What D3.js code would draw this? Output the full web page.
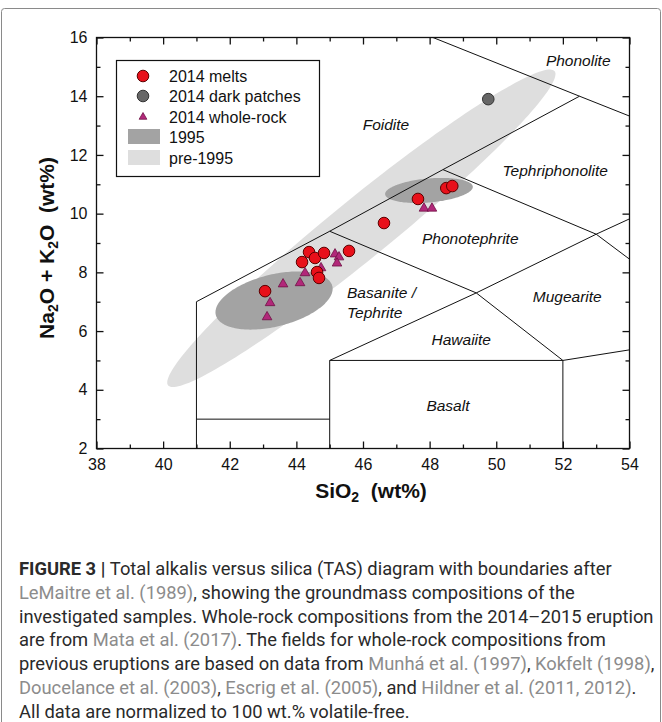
<!DOCTYPE html>
<html>
<head>
<meta charset="utf-8">
<script src="https://cdn.jsdelivr.net/npm/d3@7"></script>
<style>
  body { margin: 0; background: #fff; }
  svg text { font-family: "Liberation Sans", Arial, sans-serif; }
</style>
</head>
<body>
<div id="chart"></div>
<script>
// ---- data ----
// 2014 melts (groundmass)
const meltSiO2 = [43.06, 44.17, 44.38, 44.56, 44.83, 45.58, 44.62, 44.68, 46.63, 47.65, 48.50, 48.68];
const meltAlk  = [7.36, 8.35, 8.69, 8.49, 8.66, 8.73, 8.01, 7.81, 9.68, 10.50, 10.87, 10.94];
// 2014 dark patches
const darkSiO2 = [49.76];
const darkAlk  = [13.90];
// 2014 whole-rock
const wrSiO2 = [43.12, 43.21, 43.60, 44.11, 44.26, 44.74, 45.16, 45.28, 45.22, 47.83, 48.07];
const wrAlk  = [6.48, 6.96, 7.60, 7.64, 7.98, 8.15, 8.62, 8.52, 8.31, 10.18, 10.18];

// fields of earlier eruptions: centre + two half-axis vectors (data units)
const fieldNames = ["pre-1995", "1995", "1995"];
const fieldCentre = [[45.95, 9.5], [43.33, 7.04], [47.98, 10.79]];
const fieldAxisU = [[5.8, 5.35], [1.748, 0.494], [1.316, 0.131]];
const fieldAxisV = [[0.56, -0.79], [0.189, -0.859], [0.031, -0.407]];

// TAS boundaries (LeMaitre et al. 1989)
const tasLines = [
  [[41, 0], [41, 7], [45, 9.4], [48.4, 11.5], [52.5, 14]],
  [[48.1, 16], [52.5, 14], [57.6, 11.7]],
  [[41, 3], [45, 3]],
  [[45, 0], [45, 5], [52, 5], [52, 0]],
  [[45, 5], [49.4, 7.3], [53, 9.3], [57.6, 11.7]],
  [[45, 9.4], [49.4, 7.3], [52, 5]],
  [[48.4, 11.5], [53, 9.3], [57, 5.9]],
  [[52, 5], [57, 5.9]]
];
const fieldLabels = ["Phonolite", "Foidite", "Tephriphonolite", "Phonotephrite", "Mugearite", "Basanite /", "Tephrite", "Hawaiite", "Basalt"];
const fieldLabelX = [52.46, 46.69, 51.77, 49.22, 52.13, 45.52, 45.52, 48.95, 48.55];
const fieldLabelY = [15.03, 12.85, 11.28, 8.97, 6.99, 7.13, 6.44, 5.53, 3.28];
const fieldLabelAnchor = ["middle", "middle", "middle", "middle", "middle", "start", "start", "middle", "middle"];

const xTicks = [38, 40, 42, 44, 46, 48, 50, 52, 54];
const yTicks = [2, 4, 6, 8, 10, 12, 14, 16];

const legendLabels = ["2014 melts", "2014 dark patches", "2014 whole-rock", "1995", "pre-1995"];

const captionLines = [
  [["FIGURE 3 | ", "b"], ["Total alkalis versus silica (TAS) diagram with boundaries after", "t"]],
  [["LeMaitre et al. (1989)", "r"], [", showing the groundmass compositions of the", "t"]],
  [["investigated samples. Whole-rock compositions from the 2014\u20132015 eruption", "t"]],
  [["are from ", "t"], ["Mata et al. (2017)", "r"], [". The fields for whole-rock compositions from", "t"]],
  [["previous eruptions are based on data from ", "t"], ["Munh\u00e1 et al. (1997)", "r"], [", ", "t"], ["Kokfelt (1998)", "r"], [",", "t"]],
  [["Doucelance et al. (2003)", "r"], [", ", "t"], ["Escrig et al. (2005)", "r"], [", and ", "t"], ["Hildner et al. (2011, 2012)", "r"], [".", "t"]],
  [["All data are normalized to 100 wt.% volatile-free.", "t"]]
];

// ---- layout ----
const width = 662, height = 722;
const svg = d3.select("#chart").append("svg")
  .attr("width", width).attr("height", height);

const x = d3.scaleLinear().domain([38, 54]).range([96.5, 629.5]);
const y = d3.scaleLinear().domain([2, 16]).range([448.5, 37.5]);

// outer figure border
svg.append("rect")
  .attr("x", 1.5).attr("y", 8.5).attr("width", 659).attr("height", 760)
  .attr("rx", 3).attr("fill", "none").attr("stroke", "#8a8a8a").attr("stroke-width", 1);

svg.append("clipPath").attr("id", "plotclip")
  .append("rect").attr("x", x(38)).attr("y", y(16))
  .attr("width", x(54) - x(38)).attr("height", y(2) - y(16));

const plot = svg.append("g").attr("clip-path", "url(#plotclip)");

// ellipse fields
const ellipseLine = d3.line().x(d => x(d[0])).y(d => y(d[1])).curve(d3.curveLinearClosed);
const steps = d3.range(0, 2 * Math.PI, Math.PI / 90);
fieldCentre.forEach((c, i) => {
  const u = fieldAxisU[i], v = fieldAxisV[i];
  const pts = steps.map(t => [c[0] + u[0] * Math.cos(t) + v[0] * Math.sin(t),
                              c[1] + u[1] * Math.cos(t) + v[1] * Math.sin(t)]);
  plot.append("path")
    .attr("d", ellipseLine(pts))
    .attr("fill", fieldNames[i] === "1995" ? "#a3a3a3" : "#dedede");
});

// TAS boundary lines
const bLine = d3.line().x(d => x(d[0])).y(d => y(d[1]));
plot.selectAll(".tas").data(tasLines).enter().append("path")
  .attr("class", "tas")
  .attr("d", bLine)
  .attr("fill", "none").attr("stroke", "#111").attr("stroke-width", 1);

// field names
svg.selectAll(".fname").data(fieldLabels).enter().append("text")
  .attr("class", "fname")
  .attr("x", (d, i) => x(fieldLabelX[i]))
  .attr("y", (d, i) => y(fieldLabelY[i]))
  .attr("text-anchor", (d, i) => fieldLabelAnchor[i])
  .attr("font-style", "italic").attr("font-size", 15.5).attr("fill", "#111")
  .text(d => d);

// frame + ticks on all four sides
svg.append("rect")
  .attr("x", x(38)).attr("y", y(16))
  .attr("width", x(54) - x(38)).attr("height", y(2) - y(16))
  .attr("fill", "none").attr("stroke", "#111").attr("stroke-width", 1.3);

const xMinor = d3.range(39, 54, 2), yMinor = d3.range(3, 16, 2);
function ticks(axisFn, scale, pos, transform, labels) {
  const gMaj = svg.append("g").attr("transform", transform)
    .call(axisFn(scale).tickValues(pos === "x" ? xTicks : yTicks)
      .tickSize(-7).tickPadding(pos === "x" ? 10 : 9)
      .tickFormat(labels ? d3.format("d") : ""));
  const gMin = svg.append("g").attr("transform", transform)
    .call(axisFn(scale).tickValues(pos === "x" ? xMinor : yMinor).tickSize(-4).tickFormat(""));
  [gMaj, gMin].forEach(g => {
    g.select(".domain").remove();
    g.selectAll("line").attr("stroke", "#111").attr("stroke-width", 1.3);
    g.selectAll("text").attr("font-size", 16).attr("fill", "#111")
      .attr("font-family", "'Liberation Sans', Arial, sans-serif");
  });
}
ticks(d3.axisBottom, x, "x", `translate(0,${y(2)})`, true);
ticks(d3.axisTop, x, "x", `translate(0,${y(16)})`, false);
ticks(d3.axisLeft, y, "y", `translate(${x(38)},0)`, true);
ticks(d3.axisRight, y, "y", `translate(${x(54)},0)`, false);

// axis titles
const xt = svg.append("text").attr("x", 371).attr("y", 498)
  .attr("text-anchor", "middle").attr("font-size", 21).attr("font-weight", "bold").attr("fill", "#111");
xt.append("tspan").text("SiO");
xt.append("tspan").attr("font-size", 14).attr("dy", 4).text("2");
xt.append("tspan").attr("dy", -4).text("\u00a0\u00a0(wt%)");

const yt = svg.append("text").attr("transform", "translate(54,248) rotate(-90)")
  .attr("text-anchor", "middle").attr("font-size", 21).attr("font-weight", "bold").attr("fill", "#111");
yt.append("tspan").text("Na");
yt.append("tspan").attr("font-size", 14).attr("dy", 4).text("2");
yt.append("tspan").attr("dy", -4).text("O + K");
yt.append("tspan").attr("font-size", 14).attr("dy", 4).text("2");
yt.append("tspan").attr("dy", -4).text("O\u00a0\u00a0(wt%)");

// points
const triangle = d3.symbol().type(d3.symbolTriangle).size(40);
const pts = svg.append("g");
pts.selectAll(".wr").data(wrSiO2).enter().append("path")
  .attr("class", "wr")
  .attr("transform", (d, i) => `translate(${x(d)},${y(wrAlk[i])})`)
  .attr("d", triangle)
  .attr("fill", "#b2287a").attr("stroke", "#6e1044").attr("stroke-width", 0.8);
pts.selectAll(".melt").data(meltSiO2).enter().append("circle")
  .attr("class", "melt")
  .attr("cx", d => x(d)).attr("cy", (d, i) => y(meltAlk[i])).attr("r", 5.8)
  .attr("fill", "#e8101a").attr("stroke", "#5c0000").attr("stroke-width", 1);
pts.selectAll(".dark").data(darkSiO2).enter().append("circle")
  .attr("class", "dark")
  .attr("cx", d => x(d)).attr("cy", (d, i) => y(darkAlk[i])).attr("r", 5.8)
  .attr("fill", "#666").attr("stroke", "#333").attr("stroke-width", 1);

// legend
const lg = svg.append("g").attr("transform", "translate(116,60)");
lg.append("rect").attr("x", 0.5).attr("y", 0.5).attr("width", 203).attr("height", 116)
  .attr("fill", "#fff").attr("stroke", "#111").attr("stroke-width", 1.2);
const rowY = [16, 36, 57, 77, 98];
lg.append("circle").attr("cx", 27).attr("cy", rowY[0]).attr("r", 5.8)
  .attr("fill", "#e8101a").attr("stroke", "#5c0000");
lg.append("circle").attr("cx", 27).attr("cy", rowY[1]).attr("r", 5.8)
  .attr("fill", "#666").attr("stroke", "#333");
lg.append("path").attr("transform", `translate(27,${rowY[2]})`)
  .attr("d", d3.symbol().type(d3.symbolTriangle).size(26))
  .attr("fill", "#b2287a").attr("stroke", "#6e1044").attr("stroke-width", 0.8);
lg.append("rect").attr("x", 12).attr("y", rowY[3] - 8).attr("width", 32).attr("height", 15).attr("fill", "#a3a3a3");
lg.append("rect").attr("x", 12).attr("y", rowY[4] - 8).attr("width", 32).attr("height", 15).attr("fill", "#dedede");
lg.selectAll(".lt").data(legendLabels).enter().append("text")
  .attr("class", "lt")
  .attr("x", 53).attr("y", (d, i) => rowY[i] + 6)
  .attr("font-size", 16).attr("fill", "#111")
  .text(d => d);

// caption: one font size for all lines, squeezed horizontally so the
// longest line spans the same width as in the figure
const cap = svg.append("g");
const capTexts = captionLines.map(line => {
  const t = cap.append("text")
    .attr("x", 0).attr("y", 0)
    .attr("font-size", 18)
    .style("font-family", "Roboto, 'Liberation Sans', sans-serif");
  line.forEach(seg => {
    t.append("tspan").text(seg[0])
      .attr("fill", seg[1] === "r" ? "#8c8c8c" : "#2a2a2a")
      .attr("font-weight", seg[1] === "b" ? "bold" : "normal");
  });
  return t;
});
const sx = 635 / capTexts[2].node().getComputedTextLength();
capTexts.forEach((t, i) => {
  t.attr("transform", `translate(19,${575 + i * 23.8}) scale(${sx},1)`);
});
</script>
</body>
</html>
